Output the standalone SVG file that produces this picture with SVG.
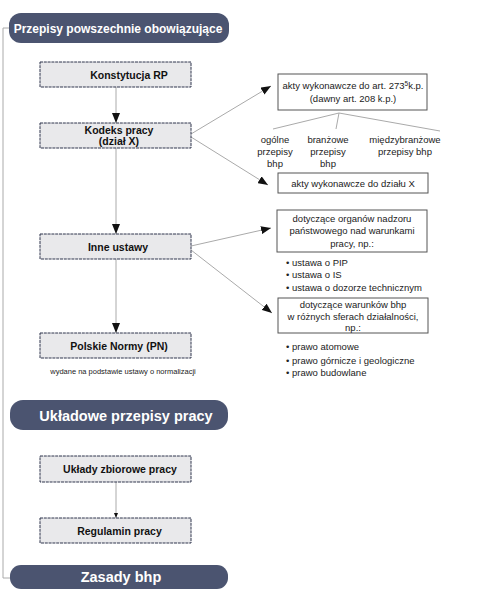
<svg xmlns="http://www.w3.org/2000/svg" width="479" height="595" viewBox="0 0 479 595">
<defs>
<marker id="ah" markerWidth="10" markerHeight="8" refX="10" refY="4" orient="auto" markerUnits="userSpaceOnUse"><path d="M0,0 L10,4 L0,8 Z" fill="#111"/></marker>
<marker id="ahs" markerWidth="5" markerHeight="4" refX="5" refY="2" orient="auto" markerUnits="userSpaceOnUse"><path d="M0,0 L5,2 L0,4 Z" fill="#111"/></marker>
<style>
.hdr{fill:#4b5470}
.ht{fill:#fff;font-family:"Liberation Sans",Arial,sans-serif;font-weight:bold;text-anchor:middle}
.box{fill:#e9e9eb;stroke:#2f354c;stroke-width:1;stroke-dasharray:3 0.8}
.bt{fill:#111;font-family:"Liberation Sans",Arial,sans-serif;font-weight:bold;font-size:10.5px;text-anchor:middle}
.rbox{fill:#fff;stroke:#555;stroke-width:1}
.rt{fill:#222;font-family:"Liberation Sans",Arial,sans-serif;font-size:9.5px;text-anchor:middle}
.lt{fill:#222;font-family:"Liberation Sans",Arial,sans-serif;font-size:9.5px}
.ln{stroke:#aaa;stroke-width:1;fill:none}
.cap{fill:#222;font-family:"Liberation Sans",Arial,sans-serif;font-size:7.5px;text-anchor:middle}
</style>
</defs>
<rect width="479" height="595" fill="#fff"/>
<g id="connectors">
<path class="ln" d="M9,28 H3 V578 H10"/>
<line class="ln" x1="116" y1="87" x2="116" y2="123" marker-end="url(#ah)"/>
<line class="ln" x1="116" y1="148" x2="116" y2="234" marker-end="url(#ah)"/>
<line class="ln" x1="116" y1="259" x2="116" y2="333" marker-end="url(#ah)"/>
<line class="ln" x1="116" y1="482" x2="116" y2="518" marker-end="url(#ahs)"/>
<line class="ln" x1="191" y1="134" x2="271" y2="86" marker-end="url(#ah)"/>
<line class="ln" x1="191" y1="137" x2="268" y2="185" marker-end="url(#ah)"/>
<line class="ln" x1="191" y1="246" x2="271" y2="228" marker-end="url(#ah)"/>
<line class="ln" x1="191" y1="250" x2="272" y2="313" marker-end="url(#ah)"/>
<line class="ln" x1="339" y1="113" x2="273" y2="129"/>
<line class="ln" x1="339" y1="113" x2="336" y2="129"/>
<line class="ln" x1="339" y1="113" x2="440" y2="131"/>
</g>
<g id="h1"><rect class="hdr" x="9" y="13" width="220" height="30" rx="12"/><text class="ht" x="118" y="32.5" font-size="12px">Przepisy powszechnie obowiązujące</text></g>
<g id="konstytucja"><rect class="box" x="40" y="62" width="151" height="25"/><text class="bt" x="129" y="78.5">Konstytucja RP</text></g>
<g id="kodeks"><rect class="box" x="40" y="123" width="151" height="25"/><text class="bt" x="119" y="133.5">Kodeks pracy</text><text class="bt" x="119" y="145">(dział X)</text></g>
<g id="inne"><rect class="box" x="40" y="234" width="151" height="25"/><text class="bt" x="118" y="250.5">Inne ustawy</text></g>
<g id="pn"><rect class="box" x="40" y="333" width="151" height="25"/><text class="bt" x="119" y="349.5">Polskie Normy (PN)</text></g>
<text class="cap" x="123" y="374">wydane na podstawie ustawy o normalizacji</text>
<g id="h2"><rect class="hdr" x="10" y="400" width="218" height="30" rx="13"/><text class="ht" x="126" y="420.5" font-size="14.5px">Układowe przepisy pracy</text></g>
<g id="uklady"><rect class="box" x="40" y="456" width="151" height="26"/><text class="bt" x="120" y="472.5">Układy zbiorowe pracy</text></g>
<g id="regulamin"><rect class="box" x="40" y="518" width="151" height="25"/><text class="bt" x="119.5" y="534.5">Regulamin pracy</text></g>
<g id="h3"><rect class="hdr" x="10" y="565" width="218" height="24" rx="11"/><text class="ht" x="121" y="582" font-size="14.5px">Zasady bhp</text></g>
<g id="akty273"><rect class="rbox" x="278" y="74" width="149" height="36"/><text class="rt" x="353" y="89">akty wykonawcze do art. 273<tspan font-size="6.5px" dy="-3">5</tspan><tspan dy="3">k.p.</tspan></text><text class="rt" x="353" y="102">(dawny art. 208 k.p.)</text></g>
<g id="ogolne"><text class="rt" x="275" y="143">ogólne</text><text class="rt" x="275" y="155">przepisy</text><text class="rt" x="275" y="167">bhp</text></g>
<g id="branzowe"><text class="rt" x="328" y="143">branżowe</text><text class="rt" x="328" y="155">przepisy</text><text class="rt" x="328" y="167">bhp</text></g>
<g id="miedzy"><text class="rt" x="405" y="143">międzybranżowe</text><text class="rt" x="405" y="155">przepisy bhp</text></g>
<g id="aktyX"><rect class="rbox" x="278" y="173" width="150" height="20"/><text class="rt" x="353" y="187">akty wykonawcze do działu X</text></g>
<g id="organy"><rect class="rbox" x="277" y="210" width="150" height="42"/><text class="rt" x="352" y="222">dotyczące organów nadzoru</text><text class="rt" x="352" y="234">państwowego nad warunkami</text><text class="rt" x="352" y="247">pracy, np.:</text>
<text class="lt" x="286" y="266">• ustawa o PIP</text><text class="lt" x="286" y="278">• ustawa o IS</text><text class="lt" x="286" y="291">• ustawa o dozorze technicznym</text></g>
<g id="warunki"><rect class="rbox" x="278" y="298" width="150" height="35"/><text class="rt" x="353" y="308">dotyczące warunków bhp</text><text class="rt" x="353" y="320">w różnych sferach działalności,</text><text class="rt" x="353" y="331">np.:</text>
<text class="lt" x="286" y="350">• prawo atomowe</text><text class="lt" x="286" y="364">• prawo górnicze i geologiczne</text><text class="lt" x="286" y="376">• prawo budowlane</text></g>
</svg>
